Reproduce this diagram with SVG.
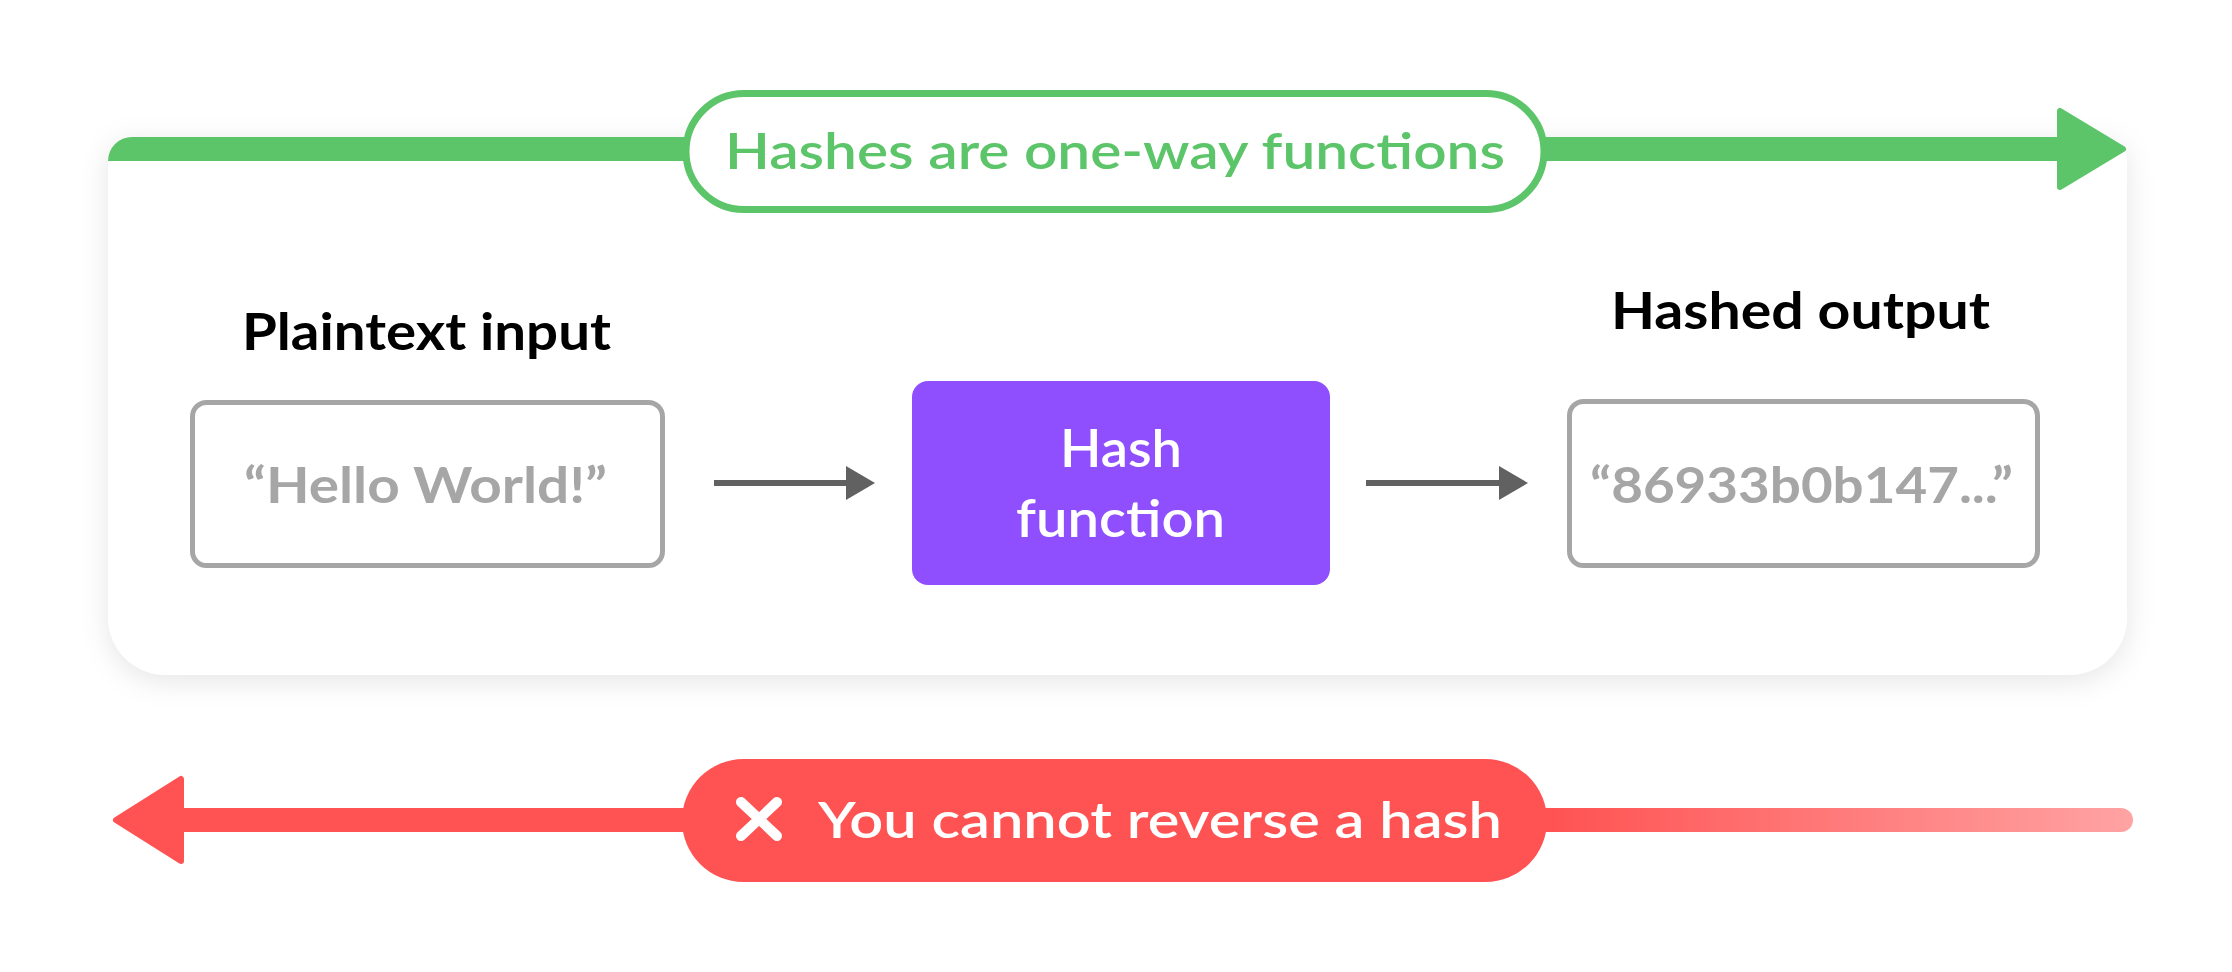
<svg xmlns="http://www.w3.org/2000/svg" width="2232" height="972" viewBox="0 0 2232 972">
  <style>
    .t { font-family: Lato, "Open Sans", "Liberation Sans", sans-serif; }
    .label { font-size: 51px; font-weight: 700; fill: #000000; }
    .val { font-size: 50px; font-weight: 700; fill: #a6a6a6; }
    .white { font-size: 51px; font-weight: 600; fill: #ffffff; }
    .pill { font-size: 50px; font-weight: 600; }
    .box { fill: #ffffff; stroke: #a6a6a6; stroke-width: 5; }
    .flow { stroke: #616161; stroke-width: 6; fill: none; }
  </style>
  <defs>
    <filter id="shadow" x="-5%" y="-10%" width="110%" height="125%">
      <feDropShadow dx="0" dy="6" stdDeviation="14" flood-color="#000000" flood-opacity="0.10"/>
    </filter>
    <marker id="head" markerUnits="userSpaceOnUse" markerWidth="30" markerHeight="34" refX="0" refY="17" orient="auto">
      <path d="M0,0 L29,17 L0,34 Z" fill="#616161"/>
    </marker>
    <linearGradient id="fade" gradientUnits="userSpaceOnUse" x1="1547" y1="0" x2="2133" y2="0">
      <stop offset="0" stop-color="#ff5252"/>
      <stop offset="1" stop-color="#ffa3a3"/>
    </linearGradient>
  </defs>
  <rect width="2232" height="972" fill="#ffffff"/>

  <g id="card">
    <path d="M132,137 H2100 Q2127,137 2127,164 V617 A58 58 0 0 1 2069,675 H166 A58 58 0 0 1 108,617 V161 A24 24 0 0 1 132,137 Z" fill="#ffffff" filter="url(#shadow)"/>
  </g>

  <g id="connectors">
    <!-- green one-way arrow -->
    <path d="M108,161 A24 24 0 0 1 132,137 H2062 V161 Z" fill="#5cc469"/>
    <polygon points="2123,149 2060,111 2060,187" fill="#5cc469" stroke="#5cc469" stroke-width="6" stroke-linejoin="round"/>
    <!-- red reverse arrow -->
    <line x1="180" y1="820" x2="2121" y2="820" stroke="url(#fade)" stroke-width="24" stroke-linecap="round"/>
    <polygon points="116,820 181,779 181,861" fill="#ff5252" stroke="#ff5252" stroke-width="6" stroke-linejoin="round"/>
    <!-- flow arrows -->
    <line class="flow" x1="714" y1="483" x2="846" y2="483" marker-end="url(#head)"/>
    <line class="flow" x1="1366" y1="483" x2="1499" y2="483" marker-end="url(#head)"/>
  </g>

  <g id="oneway-label">
    <rect x="686" y="93.5" width="858" height="116" rx="58" fill="#ffffff" stroke="#5cc469" stroke-width="7"/>
    <text class="t pill" x="1115" y="169" text-anchor="middle" fill="#5cc469" textLength="780" lengthAdjust="spacingAndGlyphs">Hashes are one-way functions</text>
  </g>

  <g id="input">
    <text class="t label" x="426.5" y="350" text-anchor="middle" textLength="369" lengthAdjust="spacingAndGlyphs">Plaintext input</text>
    <rect class="box" x="192.5" y="402.5" width="470" height="163" rx="14"/>
    <text class="t val" x="425.5" y="503" text-anchor="middle" textLength="363" lengthAdjust="spacingAndGlyphs">“Hello World!”</text>
  </g>

  <g id="hash-function">
    <rect x="912" y="381" width="418" height="204" rx="16" fill="#8f4fff"/>
    <text class="t white" x="1121" y="467" text-anchor="middle" textLength="122" lengthAdjust="spacingAndGlyphs">Hash</text>
    <text class="t white" x="1120.5" y="537" text-anchor="middle" textLength="209" lengthAdjust="spacingAndGlyphs">function</text>
  </g>

  <g id="output">
    <text class="t label" x="1800.5" y="329" text-anchor="middle" textLength="379" lengthAdjust="spacingAndGlyphs">Hashed output</text>
    <rect class="box" x="1569.5" y="401.5" width="468" height="164" rx="14"/>
    <text class="t val" x="1801.5" y="503" text-anchor="middle" textLength="423" lengthAdjust="spacingAndGlyphs">“86933b0b147...”</text>
  </g>

  <g id="reverse-label">
    <rect x="682" y="759" width="865" height="123" rx="61.5" fill="#ff5252"/>
    <path d="M741,802 L777,836 M777,802 L741,836" stroke="#ffffff" stroke-width="10" stroke-linecap="round" fill="none"/>
    <text class="t pill" x="818" y="838" fill="#ffffff" textLength="684" lengthAdjust="spacingAndGlyphs">You cannot reverse a hash</text>
  </g>
</svg>
